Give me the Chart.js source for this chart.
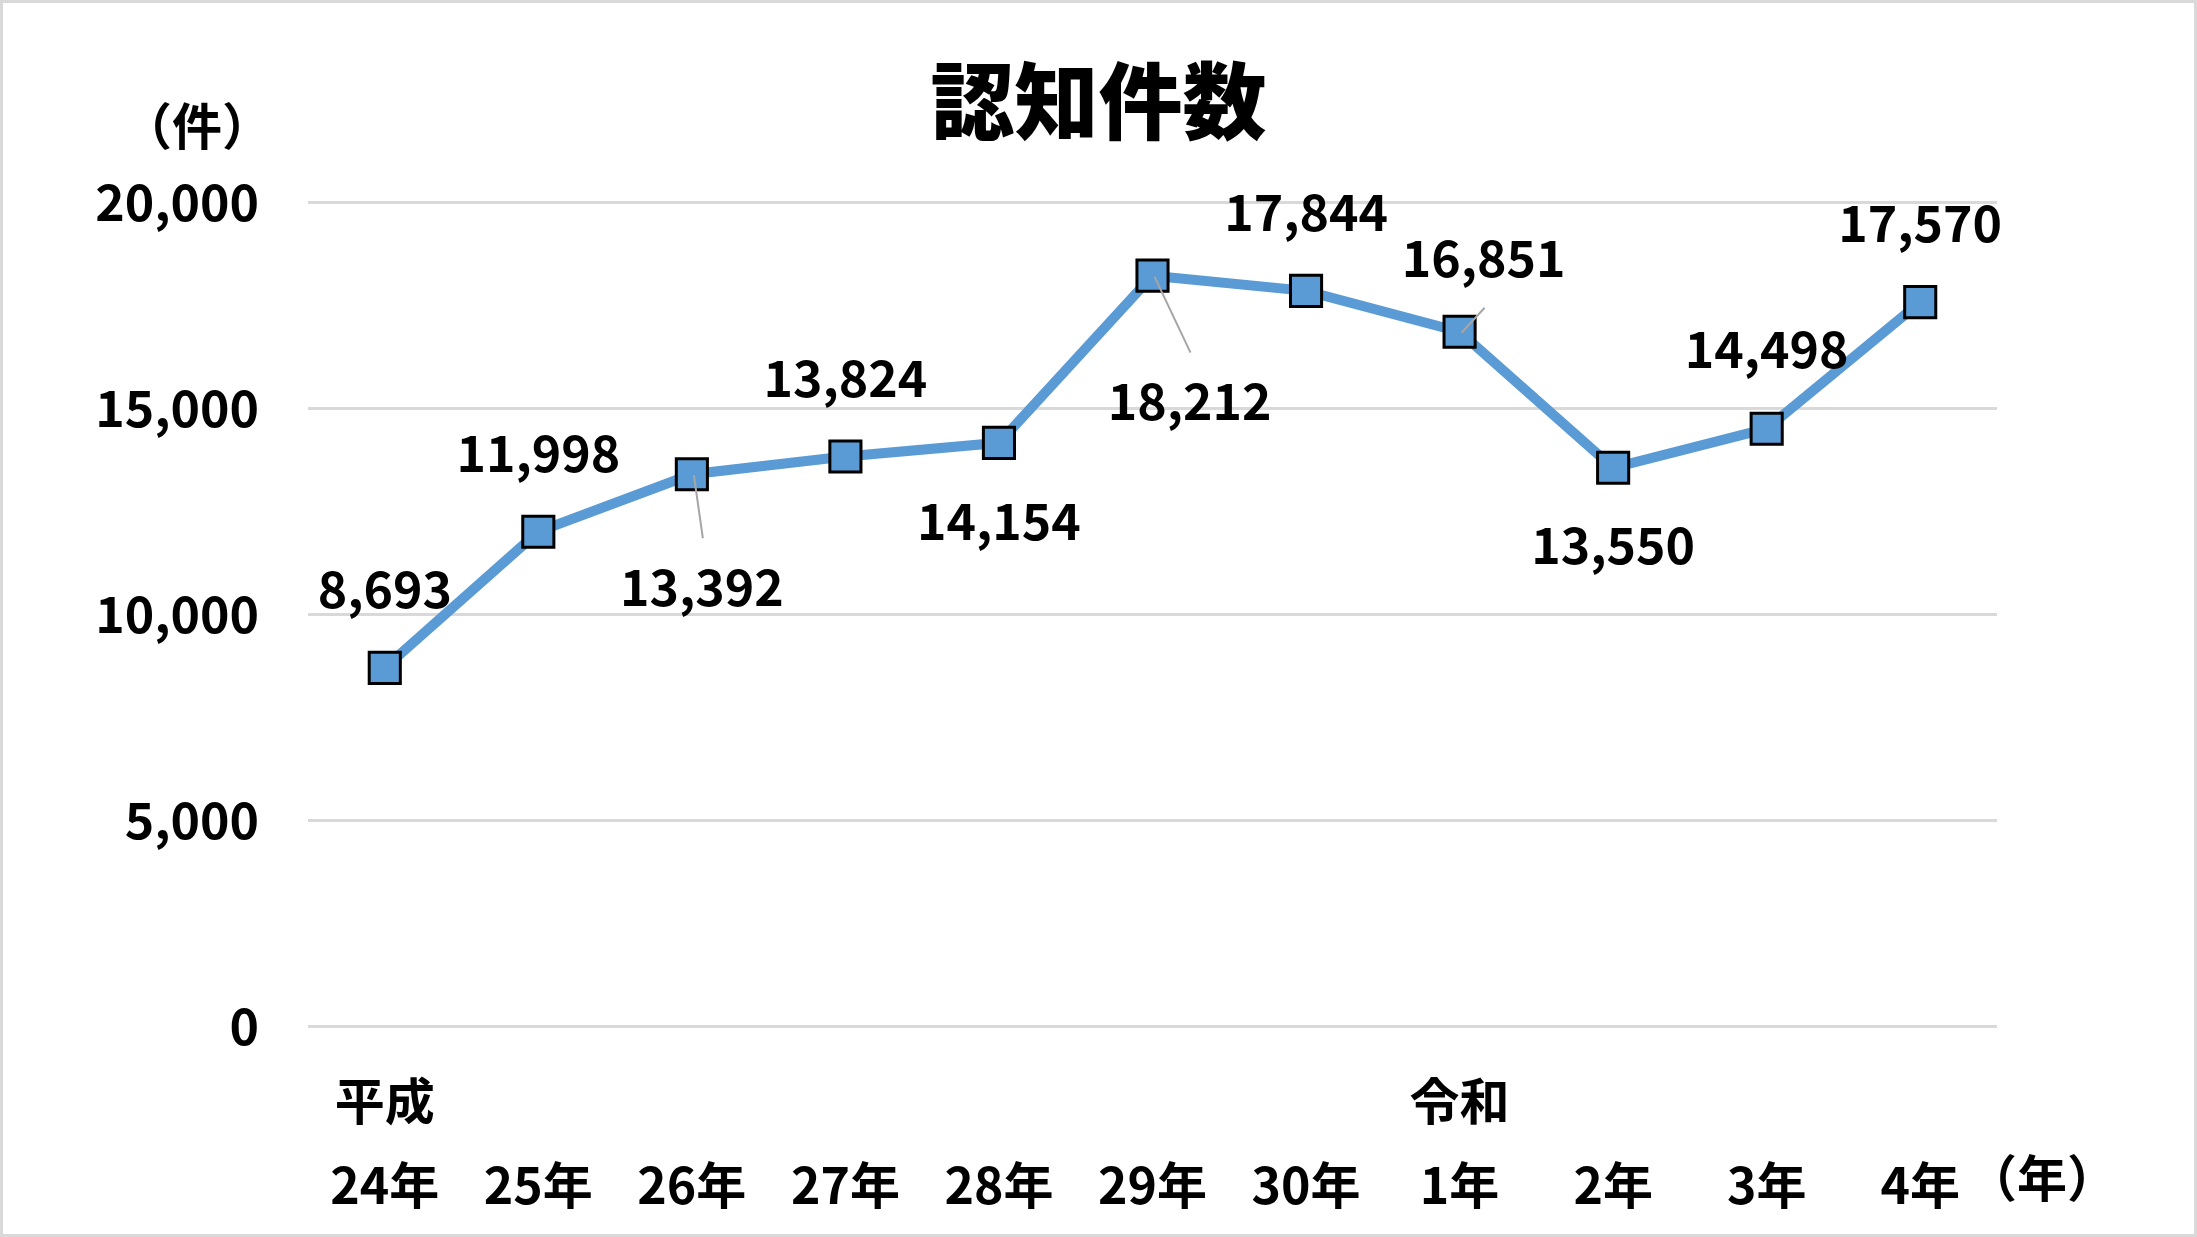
<!DOCTYPE html>
<html>
<head>
<meta charset="utf-8">
<script src="https://cdn.jsdelivr.net/npm/chart.js@4/dist/chart.umd.min.js"></script>
<style>
  html, body { margin: 0; padding: 0; background: #fff; }
  canvas { display: block; }
</style>
</head>
<body>
<canvas id="myChart" width="2197" height="1237"></canvas>
<script>
// data
var title  = '認知件数';
var eras   = ['平成', '', '', '', '', '', '', '令和', '', '', ''];
var years  = ['24年', '25年', '26年', '27年', '28年', '29年', '30年', '1年', '2年', '3年', '4年'];
var counts = [8693, 11998, 13392, 13824, 14154, 18212, 17844, 16851, 13550, 14498, 17570];
var y_ticks = [0, 5000, 10000, 15000, 20000];

// where each value label sits, relative to its point (px)
var label_offset = [[0,-79],[0,-79],[10,113],[0,-78],[0,78],[37,125],[0,-79],[24,-74],[0,77],[0,-80],[0,-79]];
// leader lines for labels pulled away from the point
var leader_end = {2: [11,64], 5: [38,77], 7: [25,-24]};

var FONT = '"Noto Sans CJK JP", "Noto Sans", sans-serif';
var BLUE = '#5b9bd5';

function fmt(v){
  return v.toLocaleString('en-US');
}

// white page, grey frame, title and unit captions
var frame = {
  id: 'frame',
  beforeDraw: function(chart){
    var c = chart.ctx;
    c.save();
    c.fillStyle = '#fff';
    c.fillRect(0, 0, chart.width, chart.height);
    c.restore();
  },
  afterDraw: function(chart){
    var c = chart.ctx;
    c.save();
    c.strokeStyle = '#d9d9d9';
    c.lineWidth = 3;
    c.strokeRect(1.5, 1.5, chart.width - 3, chart.height - 3);

    c.fillStyle = '#000';
    c.textAlign = 'center';
    c.textBaseline = 'middle';
    c.font = '900 84px ' + FONT;
    c.fillText(title, chart.width / 2, 101);

    c.font = 'bold 50px ' + FONT;
    var ya = chart.scales.y, xa = chart.scales.x;
    c.fillText('（件）', ya.right - 111, ya.top - 76);
    c.fillText('（年）', xa.right + 45, xa.top + 152);
    c.restore();
  }
};

// value labels with leader lines
var value_labels = {
  id: 'value_labels',
  afterDatasetsDraw: function(chart){
    var c = chart.ctx;
    var pts = chart.getDatasetMeta(0).data;
    c.save();
    c.strokeStyle = '#a6a6a6';
    c.lineWidth = 2;
    Object.keys(leader_end).forEach(function(k){
      var p = pts[k], e = leader_end[k];
      c.beginPath();
      c.moveTo(p.x + 2, p.y + 1);
      c.lineTo(p.x + e[0], p.y + e[1]);
      c.stroke();
    });
    c.fillStyle = '#000';
    c.font = 'bold 50px ' + FONT;
    c.textAlign = 'center';
    c.textBaseline = 'middle';
    pts.forEach(function(p, i){
      c.fillText(fmt(counts[i]), p.x + label_offset[i][0], p.y + label_offset[i][1]);
    });
    c.restore();
  }
};

var labels = years.map(function(y, i){ return [eras[i], y]; });

var ctx = document.getElementById('myChart');
window.chart = new Chart(ctx, {
  type: 'line',
  data: {
    labels: labels,
    datasets: [{
      label: title,
      data: counts,
      borderColor: BLUE,
      borderWidth: 10,
      tension: 0,
      pointStyle: 'rect',
      pointRadius: 22,
      pointHoverRadius: 22,
      pointBackgroundColor: BLUE,
      pointBorderColor: '#000',
      pointBorderWidth: 3
    }]
  },
  options: {
    responsive: false,
    devicePixelRatio: 1,
    animation: false,
    layout: { padding: { left: 0, right: 200, top: 202, bottom: 0 } },
    plugins: {
      legend: { display: false },
      tooltip: { enabled: false },
      title: { display: false }
    },
    scales: {
      x: {
        offset: true,
        grid: { display: false },
        border: { display: false },
        ticks: {
          color: '#000',
          font: { family: FONT, size: 50, weight: 'bold', lineHeight: 1.68 },
          padding: 25,
          maxRotation: 0,
          autoSkip: false
        },
        afterFit: function(s){ s.height = 211; }
      },
      y: {
        min: 0,
        max: 20000,
        grid: { color: '#d9d9d9', lineWidth: 3, drawTicks: false },
        border: { display: false },
        ticks: {
          color: '#000',
          font: { family: FONT, size: 50, weight: 'bold' },
          padding: 49,
          callback: function(v){ return fmt(v); }
        },
        afterBuildTicks: function(s){
          s.ticks = y_ticks.map(function(v){ return { value: v }; });
        },
        afterFit: function(s){ s.width = 308; }
      }
    }
  },
  plugins: [frame, value_labels]
});
</script>
</body>
</html>
